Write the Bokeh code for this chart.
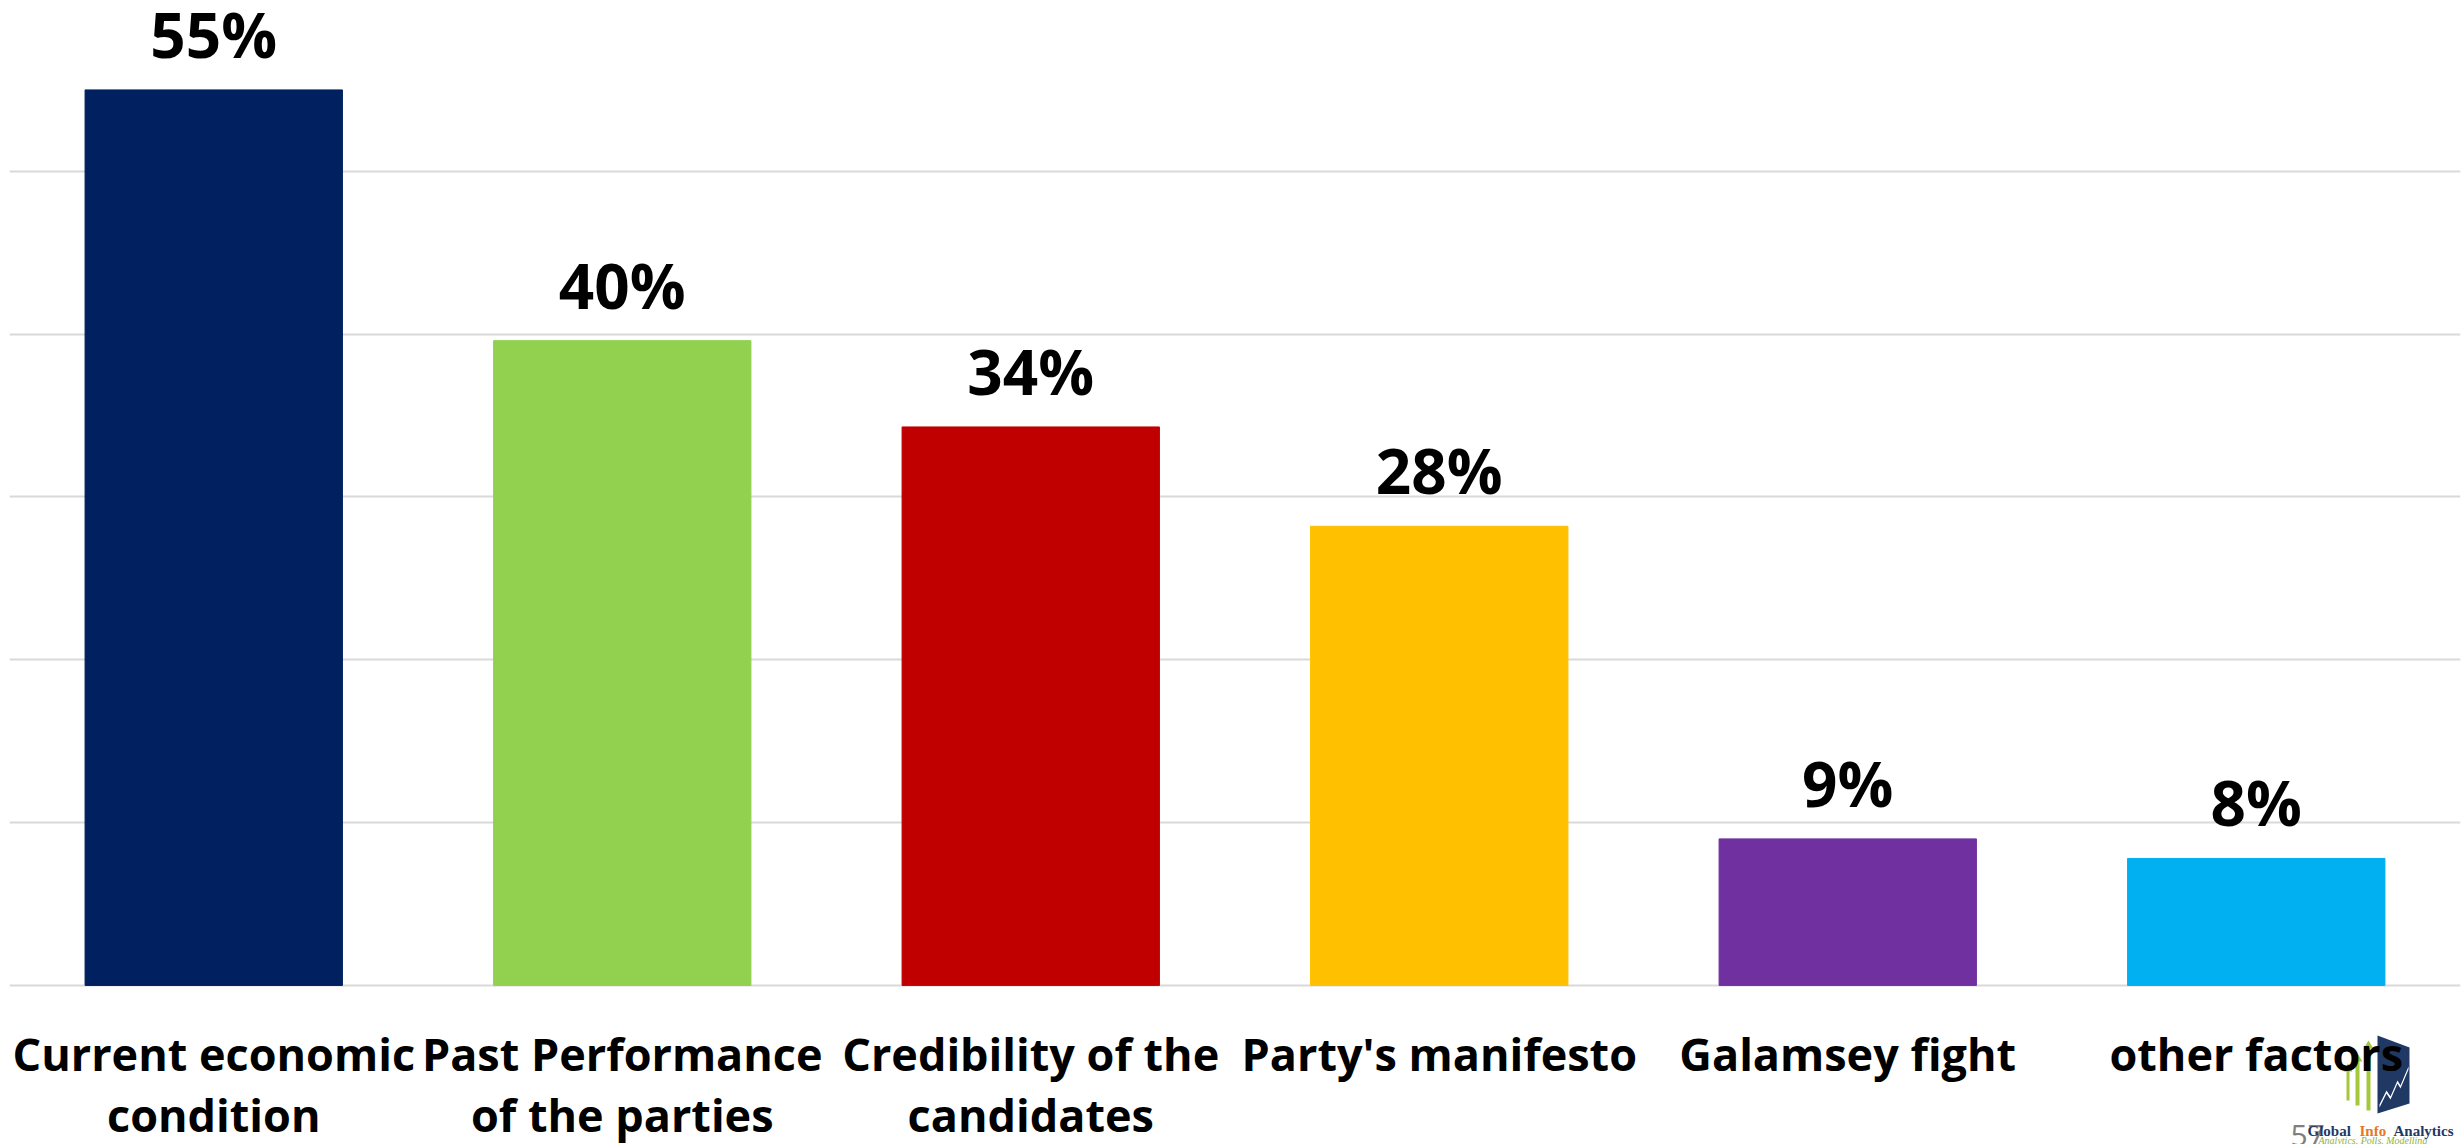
from bokeh.plotting import figure
from bokeh.models import ColumnDataSource, FactorRange, Range1d, FixedTicker, Label, PolyAnnotation
from bokeh.transform import dodge
from bokeh.core.properties import value
from bokeh.embed import file_html
from bokeh.resources import INLINE

categories = ["Current economic\ncondition", "Past Performance\nof the parties",
              "Credibility of the\ncandidates", "Party's manifesto",
              "Galamsey fight", "other factors"]
values = [55.0, 39.6, 34.3, 28.2, 9.0, 7.8]
value_labels = ["55%", "40%", "34%", "28%", "9%", "8%"]
colors = ["#002060", "#92D050", "#C00000", "#FFC000", "#7030A0", "#00B0F0"]
y_ticks = [0, 10, 20, 30, 40, 50, 60]

src = ColumnDataSource(dict(cat=categories, val=values, lab=value_labels, col=colors))

# frame runs to the bottom of the canvas; the space below 0 holds the category labels
p = figure(x_range=FactorRange(*categories, range_padding=0), y_range=Range1d(-9.77, 60),
           width=2463, height=1144, output_backend="svg", toolbar_location=None,
           min_border_left=9, min_border_right=3, min_border_top=8, min_border_bottom=0)
p.outline_line_color = None
p.background_fill_color = "white"
p.border_fill_color = "white"

p.vbar(x="cat", top="val", width=0.63, color="col", source=src)
p.text(x="cat", y=dodge("val", 1.66, range=p.y_range), text="lab", source=src,
       text_align="center", text_baseline="alphabetic", y_offset=-29,
       text_font=value("Open Sans"), text_font_style="bold", text_font_size="62px",
       text_color="black")
# category labels under the baseline
p.text(x="cat", y=-2.33, text="cat", source=src, text_align="center", text_baseline="top",
       text_font=value("Open Sans"), text_font_style="bold", text_font_size="45px",
       text_color="black", text_line_height=1.0)

p.xaxis.visible = False
p.yaxis.visible = False
p.yaxis.ticker = FixedTicker(ticks=y_ticks)
p.ygrid.ticker = FixedTicker(ticks=y_ticks)
p.ygrid.grid_line_color = "#D9D9D9"
p.ygrid.grid_line_width = 2
p.xgrid.grid_line_color = None

# logo graphic (screen units relative to the plot frame's bottom-left corner), under the text
p.add_layout(PolyAnnotation(xs=[2368, 2400, 2400, 2368], ys=[109, 97, 41, 31],
                            xs_units="screen", ys_units="screen", level="underlay",
                            fill_color="#203864", fill_alpha=1, line_color=None))
for x0, x1, ybot, yshaft, ytip in [(2337, 2340, 44, 73, 81), (2346, 2350, 39, 83, 91),
                                   (2357, 2361, 34, 96, 104)]:
    p.add_layout(PolyAnnotation(xs=[x0, x1, x1, x1 + 3, (x0 + x1) / 2, x0 - 3, x0],
                                ys=[ybot, ybot, yshaft, yshaft, ytip, yshaft, yshaft],
                                xs_units="screen", ys_units="screen", level="underlay",
                                fill_color="#A5C73A", fill_alpha=1, line_color=None))
zx = [2370, 2377, 2381, 2388, 2391, 2399]
zy = [40, 54, 48, 64, 59, 78]
p.add_layout(PolyAnnotation(xs=zx + zx[::-1], ys=zy + [v - 3 for v in zy[::-1]],
                            xs_units="screen", ys_units="screen", level="underlay",
                            fill_color="white", fill_alpha=1, line_color=None))

p.add_layout(Label(x=2281, y=9, x_units="screen", y_units="screen", text="57",
                   text_font="Open Sans", text_font_size="30px", text_color="#7F7F7F",
                   text_baseline="alphabetic"))
for word, wx, wc in [("Global", 2298, "#1F3864"), ("Info", 2350, "#E87722"),
                     ("Analytics", 2384, "#1F3864")]:
    p.add_layout(Label(x=wx, y=14, x_units="screen", y_units="screen", text=word,
                       text_font="Liberation Serif", text_font_style="bold",
                       text_font_size="15px", text_color=wc, text_baseline="alphabetic"))
p.add_layout(Label(x=2309, y=4, x_units="screen", y_units="screen",
                   text="Analytics. Polls. Modelling", text_font="Liberation Serif",
                   text_font_style="italic", text_font_size="10px", text_color="#8DB33A",
                   text_baseline="alphabetic"))

open("out.html", "w").write(file_html(p, INLINE))
